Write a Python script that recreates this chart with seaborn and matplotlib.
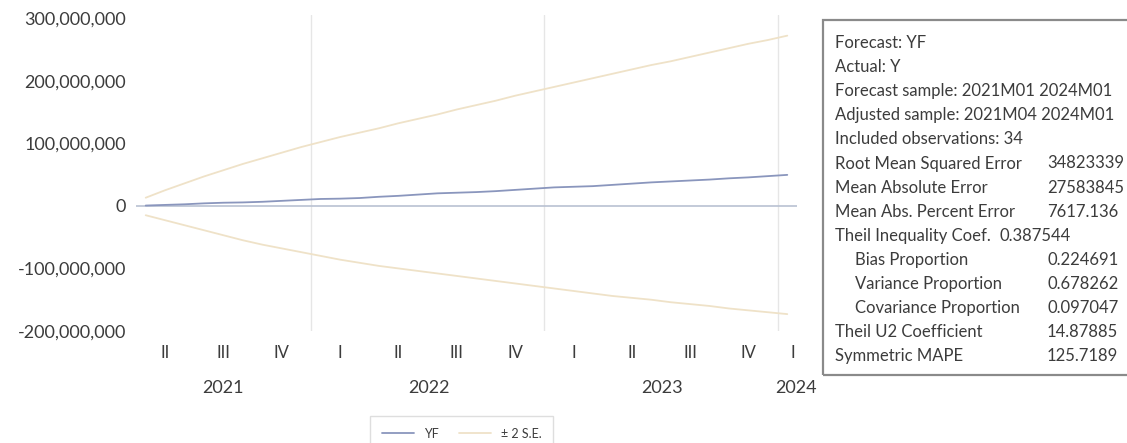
import matplotlib
matplotlib.use('Agg')
import matplotlib.pyplot as plt
from matplotlib.patches import Rectangle
from matplotlib.lines import Line2D
from matplotlib.ticker import FuncFormatter
import numpy as np
import pandas as pd
import seaborn as sns

# Forecast values, 2021M04 .. 2024M01 (millions)
months = pd.period_range('2021-04', '2024-01', freq='M').strftime('%YM%m').tolist()
yf = [0.5, 1.5, 2.5, 4, 5, 5.5, 6.5, 8, 9.5, 11, 11.5, 12.5, 14.5, 16, 18, 20, 21,
      22, 23.5, 25.5, 27.5, 29.5, 30.5, 31.5, 33.5, 35.5, 37.5, 39, 40.5, 42, 44,
      45.5, 47.5, 49.5]
upper = [13, 25, 36, 47, 57, 67, 76, 85, 94, 102, 110, 117, 124, 132, 139, 146, 154,
         161, 168, 176, 183, 190, 197, 204, 211, 218, 225, 231, 238, 245, 252, 259,
         265, 272]
lower = [-15, -23, -31, -39, -47, -55, -62, -68, -74, -80, -86, -91, -96, -100, -104,
         -108, -112, -116, -120, -124, -128, -132, -136, -140, -144, -147, -150, -154,
         -157, -160, -164, -167, -170, -173]

quarter_labels = ['II', 'III', 'IV', 'I', 'II', 'III', 'IV', 'I', 'II', 'III', 'IV', 'I']
year_labels = ['2021', '2022', '2023', '2024']

stat_names = ['Forecast: YF', 'Actual: Y', 'Forecast sample: 2021M01 2024M01',
              'Adjusted sample: 2021M04 2024M01', 'Included observations: 34',
              'Root Mean Squared Error', 'Mean Absolute Error', 'Mean Abs. Percent Error',
              'Theil Inequality Coef.', 'Bias Proportion', 'Variance Proportion',
              'Covariance Proportion', 'Theil U2 Coefficient', 'Symmetric MAPE']
stat_values = ['', '', '', '', '', '34823339', '27583845', '7617.136', '0.387544',
               '0.224691', '0.678262', '0.097047', '14.87885', '125.7189']
stat_indent = [False] * 9 + [True, True, True] + [False, False]

df = pd.DataFrame({'x': np.arange(len(months)) + 0.5,
                   'YF': np.array(yf) * 1e6,
                   'upper': np.array(upper) * 1e6,
                   'lower': np.array(lower) * 1e6})

sns.set_style('white')
plt.rcParams['font.family'] = ['Lato', 'DejaVu Sans']

c_yf = '#8a96bd'
c_se = '#efe2c8'
c_txt = '#3c3c3c'

fig = plt.figure(figsize=(11.27, 4.43), dpi=100)
ax = fig.add_axes([136 / 1127, 1 - 331 / 443, 661 / 1127, 316 / 443])

# year separators and zero line
for xb in [9, 21, 33]:
    ax.axvline(xb, color='#e6e6e6', lw=1, zorder=0)
ax.axhline(0, color='#b9c1d2', lw=1.2, zorder=1)

sns.lineplot(data=df, x='x', y='upper', ax=ax, color=c_se, lw=1.3)
sns.lineplot(data=df, x='x', y='lower', ax=ax, color=c_se, lw=1.3)
sns.lineplot(data=df, x='x', y='YF', ax=ax, color=c_yf, lw=1.3)

ax.set_xlim(0, 34)
ax.set_ylim(-200e6, 305e6)
ax.set_yticks(np.arange(-200e6, 300e6 + 1, 100e6))
ax.yaxis.set_major_formatter(FuncFormatter(lambda v, p: f'{v:,.0f}'))
ax.set_xticks([1.5, 4.5, 7.5, 10.5, 13.5, 16.5, 19.5, 22.5, 25.5, 28.5, 31.5, 33.8])
ax.set_xticklabels(quarter_labels)
# minor ticks carry the years (offset a hair so none sits on a major tick)
ax.set_xticks([4.45, 15.05, 27.05, 33.95], minor=True)
ax.set_xticklabels(year_labels, minor=True)
ax.tick_params(axis='x', which='major', length=0, pad=10, labelsize=12, labelcolor=c_txt)
ax.tick_params(axis='x', which='minor', length=0, pad=35, labelsize=13, labelcolor=c_txt)
ax.tick_params(axis='y', length=0, pad=7, labelsize=13, labelcolor=c_txt)
ax.set_xlabel('')
ax.set_ylabel('')
for s in ax.spines.values():
    s.set_visible(False)

# statistics box (runs off the right edge, as in the source screenshot)
fig.patches.append(Rectangle((823 / 1127, 1 - 375 / 443), 0.3, 355 / 443,
                             transform=fig.transFigure, fill=False,
                             edgecolor='#8a8a8a', lw=1.6))
for i, (name, val, ind) in enumerate(zip(stat_names, stat_values, stat_indent)):
    yy = 1 - (43 + 24.1 * i) / 443
    fig.text((855 if ind else 835) / 1127, yy, name, fontsize=12, color=c_txt, va='center')
    if val:
        xv = 1000 if name.startswith('Theil Inequality') else 1047
        fig.text(xv / 1127, yy, val, fontsize=12, color=c_txt, va='center')

handles = [Line2D([], [], color=c_yf, lw=1.3), Line2D([], [], color=c_se, lw=1.3)]
leg = fig.legend(handles, ['YF', '± 2 S.E.'], loc='upper left',
                 bbox_to_anchor=(364 / 1127, 1 - 410 / 443), ncol=2, fontsize=9,
                 frameon=True, fancybox=False, handlelength=2.6, columnspacing=1.6,
                 borderpad=0.9, edgecolor='#d6d6d6')
for t in leg.get_texts():
    t.set_color(c_txt)

fig.savefig('out.png', dpi=100, facecolor='white')
